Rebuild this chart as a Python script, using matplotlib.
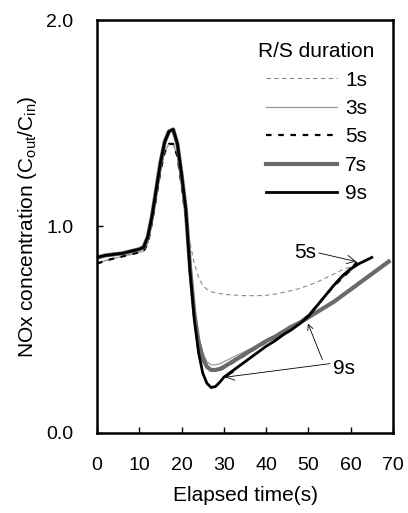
import matplotlib.pyplot as plt

plt.rcParams['font.family'] = ['Liberation Sans', 'DejaVu Sans']
plt.rcParams['mathtext.fontset'] = 'custom'
plt.rcParams['mathtext.rm'] = 'Liberation Sans'
plt.rcParams['mathtext.it'] = 'Liberation Sans:italic'

# Elapsed time (s) and NOx ratio Cout/Cin for each rich/lean switching duration
t_1s = [0, 2, 4, 6, 8, 10, 11, 12, 13, 14, 15, 16, 17, 18, 19, 20, 21, 22,
        23, 24, 25, 26, 27, 28, 30, 32, 35, 38, 40, 42, 44, 46, 48, 50, 52,
        54, 56, 58, 60, 62]
c_1s = [0.82, 0.835, 0.845, 0.855, 0.865, 0.875, 0.88, 0.92, 1.02, 1.14,
        1.27, 1.36, 1.40, 1.40, 1.34, 1.20, 1.05, 0.92, 0.82, 0.755, 0.715,
        0.695, 0.685, 0.678, 0.672, 0.668, 0.665, 0.665, 0.667, 0.672, 0.68,
        0.69, 0.70, 0.715, 0.73, 0.75, 0.77, 0.79, 0.805, 0.825]

t_3s = [0, 2, 4, 6, 8, 10, 11, 12, 13, 14, 15, 16, 17, 18, 19, 20, 21, 22,
        23, 24, 25, 26, 27, 28, 29, 30, 32, 34, 36, 38, 40, 42, 44, 46, 48,
        50, 52, 54, 56, 58, 60, 62]
c_3s = [0.82, 0.835, 0.845, 0.855, 0.865, 0.875, 0.88, 0.92, 1.02, 1.14,
        1.27, 1.36, 1.40, 1.40, 1.34, 1.20, 1.04, 0.80, 0.60, 0.47, 0.39,
        0.345, 0.33, 0.33, 0.335, 0.345, 0.365, 0.385, 0.405, 0.425, 0.445,
        0.465, 0.49, 0.515, 0.54, 0.575, 0.62, 0.665, 0.71, 0.75, 0.785, 0.82]

t_5s = [0, 2, 4, 6, 8, 10, 11, 12, 13, 14, 15, 16, 17, 18, 19, 20, 21, 22,
        23, 24, 25, 26, 27, 28, 29, 30, 32, 34, 36, 38, 40, 42, 44, 46, 48,
        50, 52, 54, 56, 58, 60, 61.5]
c_5s = [0.82, 0.835, 0.845, 0.855, 0.865, 0.875, 0.88, 0.92, 1.02, 1.14,
        1.27, 1.36, 1.40, 1.40, 1.34, 1.20, 1.04, 0.79, 0.59, 0.45, 0.37,
        0.325, 0.305, 0.30, 0.305, 0.315, 0.34, 0.365, 0.39, 0.415, 0.44,
        0.46, 0.485, 0.51, 0.535, 0.57, 0.615, 0.665, 0.71, 0.75, 0.79, 0.83]

t_7s = [0, 2, 4, 6, 8, 10, 11, 12, 13, 14, 15, 16, 17, 18, 19, 20, 21, 22,
        23, 24, 25, 26, 27, 28, 29, 30, 32, 34, 36, 38, 40, 42, 44, 46, 48,
        50, 52, 54, 56, 58, 60, 62, 64, 66, 68, 69]
c_7s = [0.85, 0.86, 0.865, 0.87, 0.88, 0.89, 0.90, 0.95, 1.05, 1.18, 1.31,
        1.41, 1.46, 1.47, 1.40, 1.25, 1.08, 0.80, 0.58, 0.44, 0.36, 0.32,
        0.305, 0.305, 0.31, 0.32, 0.345, 0.37, 0.395, 0.42, 0.445, 0.465,
        0.49, 0.515, 0.535, 0.56, 0.585, 0.61, 0.635, 0.665, 0.695, 0.725,
        0.755, 0.785, 0.815, 0.83]

t_9s = [0, 2, 4, 6, 8, 10, 11, 12, 13, 14, 15, 16, 17, 18, 19, 20, 21, 22,
        23, 24, 25, 26, 27, 28, 29, 30, 32, 34, 36, 38, 40, 42, 44, 46, 48,
        50, 52, 54, 56, 58, 60, 62, 64, 65]
c_9s = [0.85, 0.86, 0.865, 0.87, 0.88, 0.89, 0.90, 0.95, 1.05, 1.18, 1.31,
        1.41, 1.46, 1.47, 1.40, 1.25, 1.08, 0.78, 0.55, 0.39, 0.29, 0.24,
        0.22, 0.225, 0.245, 0.27, 0.30, 0.33, 0.36, 0.39, 0.42, 0.445, 0.475,
        0.50, 0.53, 0.565, 0.615, 0.665, 0.715, 0.76, 0.795, 0.82, 0.84, 0.85]

labels = ['1s', '3s', '5s', '7s', '9s']

fig = plt.figure(figsize=(4.08, 5.13), dpi=100)
ax = fig.add_axes([0.238, 0.156, 0.725, 0.805])

ax.plot(t_1s, c_1s, color='#8a8a8a', lw=0.8, ls=(0, (4, 3)), label=labels[0])
ax.plot(t_3s, c_3s, color='#9a9a9a', lw=0.9, label=labels[1])
ax.plot(t_5s, c_5s, color='black', lw=1.6, ls=(0, (2.5, 3)), label=labels[2])
ax.plot(t_7s, c_7s, color='#6a6a6a', lw=3.0, label=labels[3])
ax.plot(t_9s, c_9s, color='black', lw=2.0, label=labels[4])

ax.set_xlim(0, 70)
ax.set_ylim(0, 2.0)
ax.set_xticks(range(0, 71, 10))
ax.set_yticks([0.0, 1.0, 2.0])
ax.set_yticklabels(['0.0', '1.0', '2.0'])
ax.tick_params(direction='in', length=4, width=1, labelsize=14)
ax.tick_params(axis='x', pad=17)
ax.tick_params(axis='y', pad=17)
for sp in ax.spines.values():
    sp.set_linewidth(1.8)

ax.set_xlabel('Elapsed time(s)', fontsize=15, labelpad=9)
ax.set_ylabel('NOx concentration (C$_{\\rm out}$/C$_{\\rm in}$)', fontsize=15,
              labelpad=5)

leg = ax.legend(title='R/S duration', loc='upper right', frameon=False,
                fontsize=15, title_fontsize=15, handlelength=3.4,
                handletextpad=0.4, labelspacing=0.45, borderpad=0,
                borderaxespad=0, bbox_to_anchor=(0.939, 0.946))

# call-outs for the 5 s and 9 s traces
arrow = dict(arrowstyle='->', color='black', lw=0.6, shrinkA=0, shrinkB=0)
ax.annotate('5s', xy=(61.3, 0.83), xytext=(49.2, 0.875), fontsize=15,
            ha='center', va='center',
            arrowprops=dict(arrow, relpos=(1.0, 0.5)))
ax.annotate('9s', xy=(30.3, 0.27), xytext=(58.4, 0.31), fontsize=15,
            ha='center', va='center',
            arrowprops=dict(arrow, relpos=(0.0, 0.8)))
ax.annotate('', xy=(49.9, 0.53), xytext=(53.3, 0.355),
            arrowprops=arrow)

fig.savefig('out.png', dpi=100)
